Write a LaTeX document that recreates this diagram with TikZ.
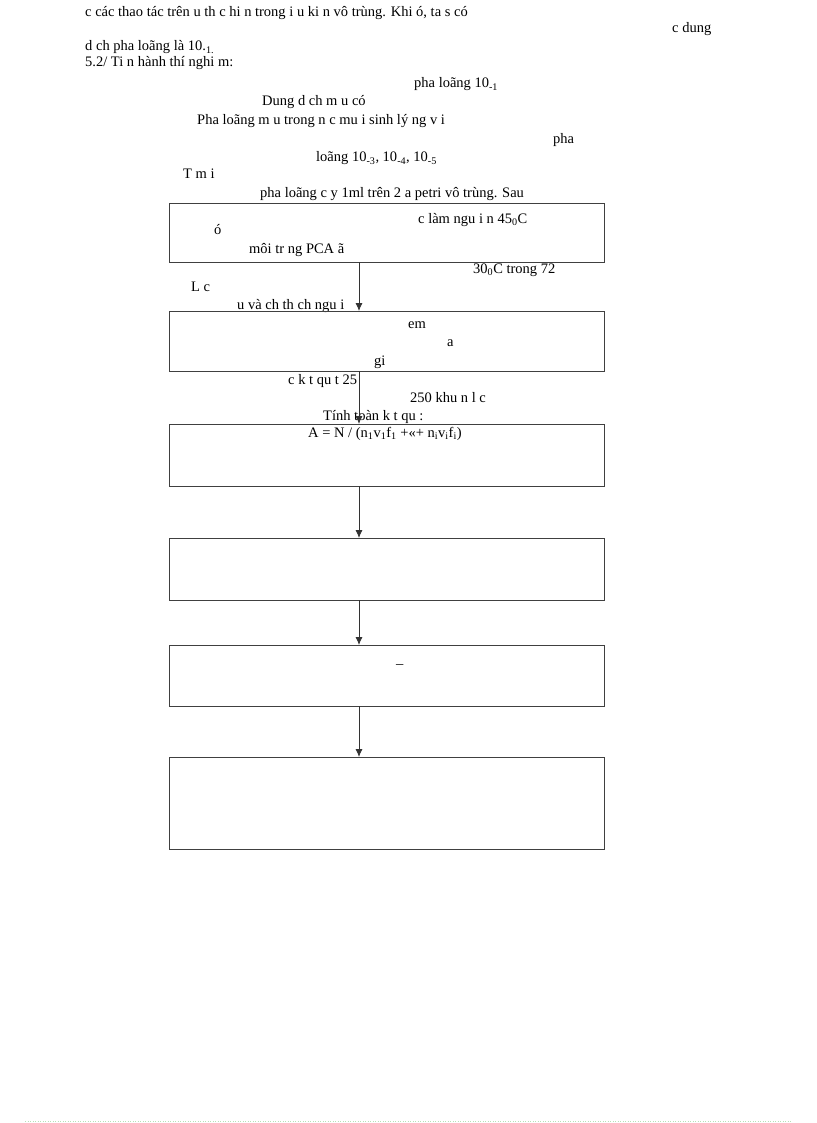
\documentclass[tikz,border=0pt]{standalone}
\usepackage{fontspec}
\setmainfont{Liberation Serif}
\usetikzlibrary{arrows.meta}
\begin{document}
\begin{tikzpicture}[x=1pt,y=-1pt,
  t/.style={anchor=base west,inner sep=0pt,font=\fontsize{14.5}{16}\selectfont},
  box/.style={draw=black!75,line width=0.9pt},
  arr/.style={draw=black!80,line width=0.8pt,-{Latex[length=8pt,width=7pt]}}]
\useasboundingbox (0,0) rectangle (816,1123);
\node[t] (l1) at (85,17) {c các thao tác trên u th c hi n trong i u ki n vô trùng. Khi ó, ta s có};
\node[t] (l2) at (672,33) {c dung};
\node[t] (l3) at (85,51) {d ch pha loãng là 10.\textsubscript{1.}};
\node[t] (l4) at (85,67) {5.2/ Ti n hành thí nghi m:};
\node[t] (l5) at (414,88) {pha loãng 10\textsubscript{-1}};
\node[t] (l6) at (262,106) {Dung d ch m u có};
\node[t] (l7) at (197,125) {Pha loãng m u trong n c mu i sinh lý ng v i};
\node[t] (l8) at (553,144) {pha};
\node[t] (l9) at (316,162) {loãng 10\textsubscript{-3}, 10\textsubscript{-4}, 10\textsubscript{-5}};
\node[t] (l10) at (183,179) {T m i};
\node[t] (l11) at (260,198) {pha loãng c y 1ml trên 2 a petri vô trùng. Sau};
\draw[box] (169,203) rectangle (604,262);
\node[t] (a1) at (418,223) {c làm ngu i n 45\textsubscript{0}C};
\node[t] (a2) at (214,234) {ó};
\node[t] (a3) at (249,254) {môi tr ng PCA ã};
\node[t] (a4) at (473,273) {30\textsubscript{0}C trong  72};
\node[t] (a5) at (191,291) {L c};
\node[t] (a6) at (237,309) {u và ch th ch ngu i};
\draw[box] (169,311) rectangle (604,371);
\node[t] (b1) at (408,328) {em};
\node[t] (b2) at (447,346) {a};
\node[t] (b3) at (374,365) {gi};
\node[t] (b4) at (288,384) {c k t qu t 25};
\node[t] (b5) at (410,402) {250 khu n l c};
\node[t] (b6) at (323,420) {Tính toàn k t qu :};
\draw[box] (169,424) rectangle (604,486);
\node[t] (c1) at (308,437) {A = N / (n\textsubscript{1}v\textsubscript{1}f\textsubscript{1} +«+ n\textsubscript{i}v\textsubscript{i}f\textsubscript{i})};
\draw[box] (169,538) rectangle (604,600);
\draw[box] (169,645) rectangle (604,706);
\node[t] (d1) at (396,668) {–};
\draw[box] (169,757) rectangle (604,849);
\coordinate (s1) at (359,262); \coordinate (e1) at (359,311);
\coordinate (s2) at (359,371); \coordinate (e2) at (359,424);
\coordinate (s3) at (359,486); \coordinate (e3) at (359,538);
\coordinate (s4) at (359,600); \coordinate (e4) at (359,645);
\coordinate (s5) at (359,706); \coordinate (e5) at (359,757);
\foreach \i in {1,...,5} \draw[arr] (s\i) -- (e\i);
\coordinate (f1) at (25,1121); \coordinate (f2) at (792,1121);
\draw[green!40!gray!40,dotted,line width=0.5pt] (f1) -- (f2);
\end{tikzpicture}
\end{document}
